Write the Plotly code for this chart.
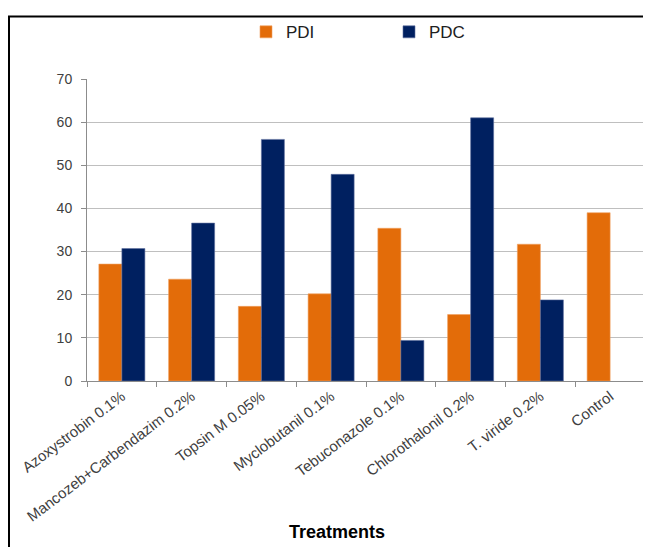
import plotly.graph_objects as go

categories = ["Azoxystrobin 0.1%", "Mancozeb+Carbendazim 0.2%", "Topsin M 0.05%",
              "Myclobutanil 0.1%", "Tebuconazole 0.1%", "Chlorothalonil 0.2%",
              "T. viride 0.2%", "Control"]
pdi = [27.1, 23.6, 17.3, 20.2, 35.4, 15.4, 31.7, 39.0]
pdc = [30.7, 36.6, 56.0, 47.9, 9.4, 61.0, 18.8, None]
y_ticks = [0, 10, 20, 30, 40, 50, 60, 70]

OFF = 8  # page body margin offset
W, H = 651 - OFF, 547 - OFF
# plot area in page pixels
PX0, PX1, PY0, PY1 = 87, 645, 77, 381
L, R, T, B = PX0 - OFF, W - (PX1 - OFF), PY0 - OFF, H - (PY1 - OFF)
pw, ph = W - L - R, H - T - B

def px(x):
    return (x - OFF - L) / pw

def py(y):
    return (H - B - (y - OFF)) / ph

fig = go.Figure()
fig.add_trace(go.Bar(name="PDI", x=categories, y=pdi, marker_color="#E36C09",
                     marker_line=dict(color="#F0A060", width=0.6)))
fig.add_trace(go.Bar(name="PDC", x=categories, y=pdc, marker_color="#002060",
                     marker_line=dict(color="#6070A0", width=0.6)))

fig.update_layout(
    width=W, height=H,
    margin=dict(l=L, r=R, t=T, b=B),
    plot_bgcolor="white", paper_bgcolor="white",
    barmode="group", bargap=0.34, bargroupgap=0,
    font=dict(family="Liberation Sans, Arial, sans-serif", color="#404040", size=14),
    showlegend=True,
    legend=dict(orientation="h", x=px(246), xanchor="left", y=py(30), yanchor="middle",
                font=dict(size=17, color="#202020"), entrywidth=98, entrywidthmode="pixels",
                bgcolor="rgba(0,0,0,0)", itemwidth=30),
    xaxis=dict(tickangle=-37, tickson="boundaries", ticks="outside", ticklen=5,
               tickcolor="#8C8C8C", showline=True, linecolor="#8C8C8C", linewidth=1,
               tickfont=dict(size=15, color="#404040")),
    yaxis=dict(range=[0, 70], tickvals=y_ticks, ticks="outside", ticklen=5,
               tickcolor="#8C8C8C", showline=True, linecolor="#8C8C8C", linewidth=1,
               showgrid=True, gridcolor="#BFBFBF", gridwidth=1, zeroline=False,
               ticklabelstandoff=6,
               tickfont=dict(size=14, color="#404040")),
    shapes=[dict(type="rect", xref="paper", yref="paper",
                 x0=px(9), x1=px(720), y0=py(620), y1=py(14),
                 line=dict(color="black", width=2), layer="above")],
    annotations=[dict(text="<b>Treatments</b>", xref="paper", yref="paper",
                      x=px(337), y=py(533), xanchor="center", yanchor="middle",
                      showarrow=False, font=dict(size=18, color="#000000"))],
)

fig.write_html("out.html")
